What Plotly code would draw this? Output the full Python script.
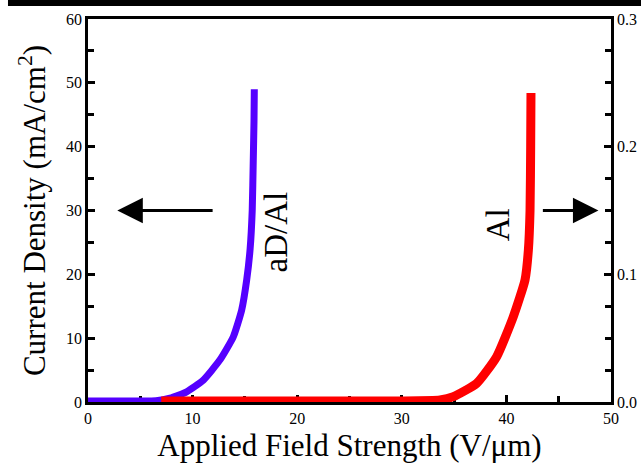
import plotly.graph_objects as go

# aD/Al data (left axis, mA/cm^2)
ad_x = [0, 4, 6.5, 7.84, 9.43, 11.0, 12.62, 13.89, 14.69, 15.17, 15.5, 15.7, 15.8, 15.87, 15.9]
ad_y = [0.15, 0.15, 0.2, 0.6, 1.6, 3.4, 6.6, 10.2, 14.4, 19.1, 24.0, 30, 37.9, 44, 49]

# Al data (right axis)
al_x = [7, 20, 30, 33.65, 34.93, 37.16, 39.07, 40.66, 41.78, 42.1, 42.26, 42.32, 42.35]
al_y = [0.0008, 0.0008, 0.0008, 0.0016, 0.0042, 0.0146, 0.0355, 0.0668, 0.0956, 0.119, 0.150, 0.2, 0.242]

FONT = "Liberation Serif, Times New Roman, serif"

fig = go.Figure()
fig.add_trace(go.Scatter(x=al_x, y=al_y, yaxis="y2", mode="lines",
                         line=dict(color="#ff0000", width=9, shape="spline", smoothing=0.5),
                         showlegend=False, hoverinfo="skip"))
fig.add_trace(go.Scatter(x=ad_x, y=ad_y, mode="lines",
                         line=dict(color="#5500ff", width=7, shape="spline", smoothing=0.5),
                         showlegend=False, hoverinfo="skip"))

axis_common = dict(showline=True, linecolor="black", linewidth=2.5, ticks="inside",
                   tickcolor="black", tickwidth=2.5, ticklen=7, showgrid=False, zeroline=False,
                   automargin=False, layer="below traces",
                   tickfont=dict(family=FONT, size=16, color="black"))

fig.update_layout(
    width=641, height=468,
    margin=dict(l=88, r=30, t=19, b=66),
    plot_bgcolor="white", paper_bgcolor="white",
    xaxis=dict(range=[0, 50], dtick=10, mirror=True,
               minor=dict(dtick=5, ticks="inside", ticklen=6, tickwidth=2.5, tickcolor="black"),
               title=dict(text="Applied Field Strength (V/μm)", font=dict(family=FONT, size=31, color="black"), standoff=9),
               **axis_common),
    yaxis=dict(range=[0, 60], dtick=10,
               minor=dict(dtick=5, ticks="inside", ticklen=6, tickwidth=2.5, tickcolor="black"),
               title=dict(text="Current Density (mA/cm<sup>2</sup>)", font=dict(family=FONT, size=31, color="black"), standoff=12),
               **axis_common),
    yaxis2=dict(range=[0, 0.3], dtick=0.1, tickformat=".1f", overlaying="y", side="right",
                minor=dict(dtick=0.025, ticks="inside", ticklen=6, tickwidth=2.5, tickcolor="black"),
                **axis_common),
    shapes=[dict(type="rect", xref="paper", yref="paper", x0=-0.153, x1=1.06, y0=1.034, y1=1.06,
                 fillcolor="black", line=dict(width=0))],
    annotations=[
        dict(x=2.8, y=30, ax=12.2, ay=30, xref="x", yref="y", axref="x", ayref="y",
             showarrow=True, arrowhead=2, arrowsize=1.7, arrowwidth=3, arrowcolor="black", text=" "),
        dict(x=48.8, y=30, ax=43.2, ay=30, xref="x", yref="y", axref="x", ayref="y",
             showarrow=True, arrowhead=2, arrowsize=1.7, arrowwidth=3, arrowcolor="black", text=" "),
        dict(x=18.0, y=26.6, xref="x", yref="y", text="aD/Al", textangle=-90, showarrow=False,
             font=dict(family=FONT, size=33, color="black")),
        dict(x=39.2, y=27.7, xref="x", yref="y", text="Al", textangle=-90, showarrow=False,
             font=dict(family=FONT, size=33, color="black")),
    ],
)

fig.write_html("out.html")
